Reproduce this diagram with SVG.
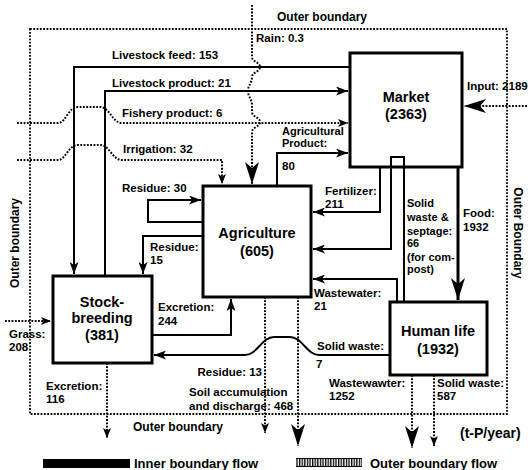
<svg xmlns="http://www.w3.org/2000/svg" width="528" height="470" viewBox="0 0 528 470">
<style>
text{font-family:"Liberation Sans",Arial,sans-serif;font-weight:bold;fill:#000}
.l{font-size:11.5px}
.s{font-size:11px}
.b{font-size:14.5px;text-anchor:middle}
.box{fill:#fff;stroke:#000;stroke-width:3}
.f{fill:none;stroke:#000;stroke-width:2}
.t{fill:none;stroke:#000;stroke-width:3}
.d{fill:none;stroke:#000;stroke-width:2;stroke-dasharray:1.8 1.5}
.ob{fill:none;stroke:#000;stroke-width:1.8;stroke-dasharray:1.8 1.5}
</style>
<defs>
<marker id="a" markerUnits="userSpaceOnUse" viewBox="0 0 12 9" markerWidth="12" markerHeight="9" refX="12" refY="4.5" orient="auto"><path d="M0,0 L12,4.5 L0,9 L3,4.5 z"/></marker>
<marker id="sm" markerUnits="userSpaceOnUse" viewBox="0 0 10 8" markerWidth="10" markerHeight="8" refX="10" refY="4" orient="auto"><path d="M0,0 L10,4 L0,8 L2.5,4 z"/></marker>
<marker id="big" markerUnits="userSpaceOnUse" viewBox="0 0 22 14" markerWidth="22" markerHeight="14" refX="22" refY="7" orient="auto"><path d="M0,0 L22,7 L0,14 L6,7 z"/></marker>
<pattern id="hatch" patternUnits="userSpaceOnUse" width="2.6" height="10"><rect x="0" y="0" width="1.3" height="10" fill="#000"/></pattern>
</defs>
<rect width="528" height="470" fill="#fff"/>

<g id="outer-boundary">
<rect class="ob" x="30" y="29" width="477" height="385"/>
<text class="l" x="277" y="21" style="font-size:12px">Outer boundary</text>
<text class="l" x="133" y="431" style="font-size:12px">Outer boundary</text>
<text class="l" transform="translate(19,243) rotate(-90)" text-anchor="middle" style="font-size:12px">Outer boundary</text>
<text class="l" transform="translate(514,233) rotate(90)" text-anchor="middle" style="font-size:12px">Outer Boundary</text>
</g>

<g id="connectors">
<path class="f" d="M350,67 H74 V274" marker-end="url(#a)"/>
<path class="f" d="M105,276 V91 H348" marker-end="url(#a)"/>
<path class="d" d="M17,123 H58 C66,123 68,107 78,107 H100 C110,107 112,123 122,123 H348" marker-end="url(#sm)"/>
<path class="d" d="M17,160 H58 C66,160 68,145 78,145 H100 C110,145 112,160 122,160 H222 V184" marker-end="url(#sm)"/>
<path class="d" d="M252,5 V57 C252,62 260,62 260,67 C260,72 252,72 252,77 C252,83 248,85 248,91 C248,97 252,99 252,105 V112 C252,117 260,117 260,122 C260,127 252,127 252,132 V184" marker-end="url(#big)"/>
<path class="f" d="M277,186 V153 H348" marker-end="url(#a)"/>
<path class="f" d="M380,167 V212 H313" marker-end="url(#a)"/>
<path class="f" d="M404,302 V167 M391,167 V249 H313" marker-end="url(#a)"/>
<path class="t" d="M458,167 V300" marker-end="url(#big)"/>
<path class="f" d="M397,302 V279 H313" marker-end="url(#a)"/>
<path class="f" d="M203,222 H148 V200 H201" marker-end="url(#a)"/>
<path class="f" d="M203,236 H143 V274" marker-end="url(#a)"/>
<path class="f" d="M152,335 H231 V299" marker-end="url(#a)"/>
<path class="f" d="M390,355 H319 C307,355 302,337 290,337 H274 C262,337 257,355 245,355 H154" marker-end="url(#a)"/>
<path class="d" d="M265,297 V433" marker-end="url(#sm)"/>
<path class="d" d="M298,297 V446" marker-end="url(#big)"/>
<path class="d" d="M412,375 V448" marker-end="url(#big)"/>
<path class="d" d="M434,375 V446" marker-end="url(#sm)"/>
<path class="d" d="M107,363 V438" marker-end="url(#sm)"/>
<path class="d" d="M5,321 H51" marker-end="url(#sm)"/>
<path class="d" d="M527,106 H464" marker-end="url(#big)"/>
</g>

<g id="market">
<rect class="box" x="350" y="53" width="112" height="114"/>
<text class="b" x="406" y="102">Market</text>
<text class="b" x="406" y="119">(2363)</text>
<path d="M391,167 V157 H404 V167" stroke="#000" stroke-width="2" fill="none"/>
</g>
<g id="agriculture">
<rect class="box" x="203" y="186" width="108" height="111"/>
<text class="b" x="257" y="238">Agriculture</text>
<text class="b" x="257" y="256">(605)</text>
</g>
<g id="stockbreeding">
<rect class="box" x="53" y="276" width="99" height="87"/>
<text class="b" x="102" y="307">Stock-</text>
<text class="b" x="102" y="323">breeding</text>
<text class="b" x="102" y="340">(381)</text>
</g>
<g id="human-life">
<rect class="box" x="390" y="302" width="97" height="73"/>
<text class="b" x="438" y="336">Human life</text>
<text class="b" x="438" y="354">(1932)</text>
</g>

<g id="labels">
<text class="l" x="112" y="59">Livestock feed: 153</text>
<text class="l" x="112" y="87">Livestock product: 21</text>
<text class="l" x="122" y="117">Fishery product: 6</text>
<text class="l" x="123" y="153">Irrigation: 32</text>
<text class="l" x="256" y="42">Rain: 0.3</text>
<text class="l" x="467" y="90">Input: 2189</text>
<text class="s" x="282" y="135">Agricultural</text>
<text class="s" x="282" y="147">Product:</text>
<text class="l" x="282" y="170">80</text>
<text class="l" x="122" y="192">Residue: 30</text>
<text class="l" x="150" y="251">Residue:</text>
<text class="l" x="150" y="264">15</text>
<text class="l" x="325" y="195">Fertilizer:</text>
<text class="l" x="325" y="208">211</text>
<text class="s" x="407" y="207">Solid</text>
<text class="s" x="407" y="221">waste &amp;</text>
<text class="s" x="407" y="235">septage:</text>
<text class="s" x="407" y="247">66</text>
<text class="s" x="407" y="261">(for com-</text>
<text class="s" x="407" y="273">post)</text>
<text class="l" x="463" y="217">Food:</text>
<text class="l" x="463" y="231">1932</text>
<text class="l" x="314" y="297">Wastewater:</text>
<text class="l" x="314" y="310">21</text>
<text class="l" x="158" y="311">Excretion:</text>
<text class="l" x="158" y="325">244</text>
<text class="l" x="317" y="350">Solid waste:</text>
<text class="l" x="316" y="368">7</text>
<text class="l" x="262" y="376" text-anchor="end">Residue: 13</text>
<text class="l" x="189" y="396">Soil accumulation</text>
<text class="l" x="189" y="410">and discharge: 468</text>
<text class="l" x="329" y="387">Wastewawter:</text>
<text class="l" x="329" y="400">1252</text>
<text class="l" x="437" y="387">Solid waste:</text>
<text class="l" x="437" y="400">587</text>
<text class="l" x="9" y="338">Grass:</text>
<text class="l" x="9" y="351">208</text>
<text class="l" x="46" y="390">Excretion:</text>
<text class="l" x="46" y="403">116</text>
<text x="460" y="438" style="font-size:14px">(t-P/year)</text>
</g>

<g id="legend">
<rect x="43" y="459" width="87" height="9" fill="#000"/>
<text x="134" y="468" style="font-size:13px">Inner boundary flow</text>
<rect x="296" y="458" width="66" height="9" fill="url(#hatch)"/>
<path d="M296,458.5 H362 M296,466.5 H362" stroke="#000" stroke-width="1" fill="none"/>
<text x="370" y="468" style="font-size:13px">Outer boundary flow</text>
</g>
</svg>
